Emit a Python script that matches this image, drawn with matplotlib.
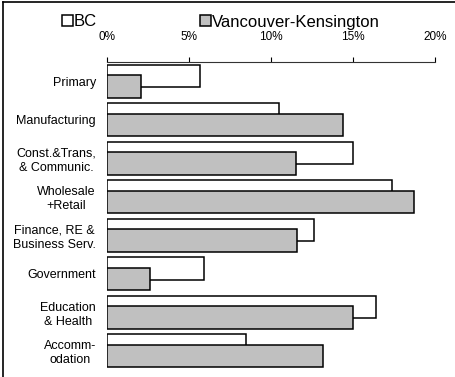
import numpy as np
import matplotlib.pyplot as plt
from matplotlib.lines import Line2D
from matplotlib.ticker import PercentFormatter

plt.rcParams['font.family'] = ['Liberation Sans', 'DejaVu Sans']

# share of employment by industry (%)
industries = ['Primary', 'Manufacturing', 'Const.&Trans,\n& Communic.',
              'Wholesale\n+Retail', 'Finance, RE &\nBusiness Serv.',
              'Government', 'Education\n& Health', 'Accomm-\nodation']
bc = [5.7, 10.5, 15.0, 17.4, 12.6, 5.9, 16.4, 8.5]
vk = [2.1, 14.4, 11.5, 18.7, 11.6, 2.6, 15.0, 13.2]

fig = plt.figure(figsize=(4.56, 3.77), dpi=100)
ax = fig.add_axes([107/456, 1 - 370/377, 328/456, 308/377])

y = np.arange(len(industries))
h = 0.59
b1 = ax.barh(y - 0.14, bc, height=h, color='white', edgecolor='black', linewidth=1.1, label='BC')
b2 = ax.barh(y + 0.14, vk, height=h, color='#c0c0c0', edgecolor='black', linewidth=1.1,
             label='Vancouver-Kensington')

ax.set_xlim(0, 20)
ax.set_ylim(len(industries) - 0.5, -0.5)
ax.set_xticks([0, 5, 10, 15, 20])
ax.xaxis.set_major_formatter(PercentFormatter(decimals=0))
ax.xaxis.tick_top()
ax.tick_params(axis='x', length=3.5, width=0.8, pad=10, labelsize=8.5, colors='black')
ax.set_yticks(y)
ax.set_yticklabels(industries, fontsize=9, multialignment='center')
ax.tick_params(axis='y', length=0, pad=8)

for side in ['left', 'right', 'bottom']:
    ax.spines[side].set_visible(False)
ax.spines['top'].set_linewidth(0.8)
ax.spines['top'].set_color('#333333')

fig.legend(handles=[b1, b2], loc='center left', bbox_to_anchor=(62/456, 1 - 22/377),
           ncol=2, frameon=False, fontsize=12, handlelength=0.65, handleheight=0.65,
           handletextpad=0.05, columnspacing=6.2, borderpad=0, borderaxespad=0)

# outer frame
fig.add_artist(Line2D([3.5/456, 3.5/456], [0, 1 - 1.5/377], color='black', linewidth=1.2))
fig.add_artist(Line2D([3.5/456, 1], [1 - 1.5/377, 1 - 1.5/377], color='black', linewidth=1.2))

fig.savefig('out.png', dpi=100)
